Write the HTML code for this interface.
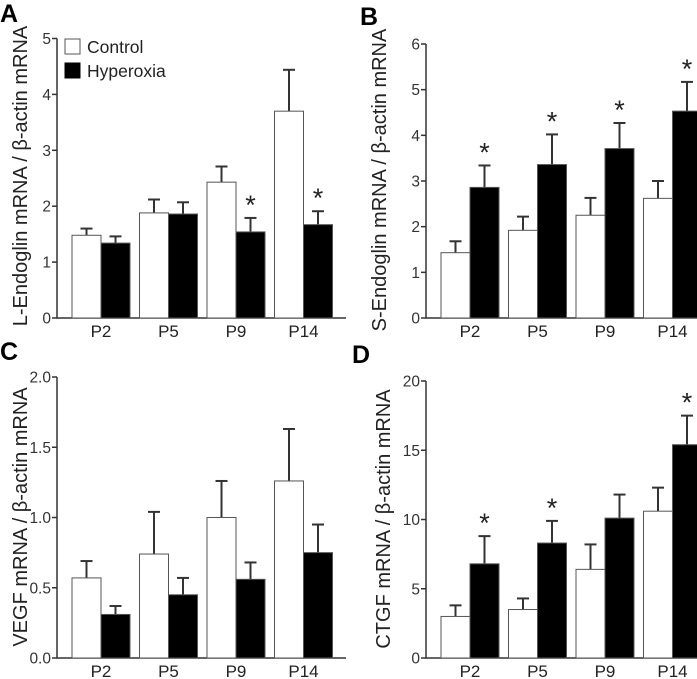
<!DOCTYPE html>
<html><head><meta charset="utf-8"><style>
body{margin:0;background:#fff;}
svg{display:block;font-family:"Liberation Sans",sans-serif;}
</style></head><body>
<svg id="fig" width="697" height="679" viewBox="0 0 697 679"></svg>
<script>
const categories=["P2","P5","P9","P14"];
const aCtrl=[1.48,1.88,2.43,3.70], aCtrlErr=[1.60,2.12,2.71,4.44];
const aHyp=[1.34,1.86,1.54,1.67], aHypErr=[1.46,2.07,1.79,1.91];
const aStars=[false,false,true,true];
const aTicks=["0","1","2","3","4","5"];
const bCtrl=[1.43,1.92,2.25,2.62], bCtrlErr=[1.68,2.22,2.63,3.00];
const bHyp=[2.86,3.36,3.71,4.53], bHypErr=[3.34,4.02,4.27,5.17];
const bStars=[true,true,true,true];
const bTicks=["0","1","2","3","4","5","6"];
const cCtrl=[0.57,0.74,1.00,1.26], cCtrlErr=[0.69,1.04,1.26,1.63];
const cHyp=[0.31,0.45,0.56,0.75], cHypErr=[0.37,0.57,0.68,0.95];
const cStars=[false,false,false,false];
const cTicks=["0.0","0.5","1.0","1.5","2.0"];
const dCtrl=[3.0,3.5,6.4,10.6], dCtrlErr=[3.8,4.3,8.2,12.3];
const dHyp=[6.8,8.3,10.1,15.4], dHypErr=[8.8,9.9,11.8,17.5];
const dStars=[true,true,false,true];
const dTicks=["0","5","10","15","20"];

const svg=document.getElementById('fig');
const NS="http://www.w3.org/2000/svg";
function mk(tag,attrs,parent){const e=document.createElementNS(NS,tag);for(const k in attrs)e.setAttribute(k,attrs[k]);(parent||svg).appendChild(e);return e;}

function panel(o){
  const g=mk('g',{});
  
  
  const max=parseFloat(o.ticks[o.ticks.length-1]);
  const y=v=>o.y0-(v/max)*(o.y0-o.yTop);
  const x=i=>o.x0+15+i*67.5;
  const L=mk('text',{x:o.lx,y:o.ly,'font-size':25,'font-weight':'bold',fill:'#000'},g);L.textContent=o.letter;
  
  
  const ax=mk('path',{d:`M${o.x0} ${o.yTop}V${o.y0}H${o.xEnd}`,stroke:'#333','stroke-width':1.5,fill:'none'},g);
  
  
  o.ticks.forEach(t=>{const v=parseFloat(t);const yy=y(v);
    mk('line',{x1:o.x0-5,x2:o.x0,y1:yy,y2:yy,stroke:'#333','stroke-width':1.5},g);
    const tt=mk('text',{x:o.x0-6,y:yy+5.5,'text-anchor':'end','font-size':15.5,fill:'#333'},g);tt.textContent=t;
    
    
  });
  const yt=mk('text',{x:0,y:0,transform:`translate(${o.tx},${o.tc}) rotate(-90)`,'text-anchor':'middle','font-size':20,fill:'#222'},g);
  yt.textContent=o.title;
  
  
  categories.forEach((c,i)=>{
    const xc=x(i);
    [[o.ctrl,o.ctrlErr,'#fff',0],[o.hyp,o.hypErr,'#000',1]].forEach(([vals,errs,fill,k])=>{
      const bx=xc+k*29, w=29;
      mk('line',{x1:bx+w/2,x2:bx+w/2,y1:y(vals[i]),y2:y(errs[i]),stroke:'#333','stroke-width':2},g);
      mk('line',{x1:bx+w/2-6,x2:bx+w/2+6,y1:y(errs[i]),y2:y(errs[i]),stroke:'#333','stroke-width':2},g);
      const r=mk('rect',{x:bx,y:y(vals[i]),width:w,height:o.y0-y(vals[i]),fill:fill,stroke:'#555','stroke-width':1},g);
      
      
    });
    if(o.stars[i]){const s=mk('text',{x:xc+29+14.5,y:y(o.hypErr[i])-4,'text-anchor':'middle','font-size':27,fill:'#222'},g);s.textContent='*';
      
      }
    const xl=mk('text',{x:xc+29,y:o.y0+19,'text-anchor':'middle','font-size':17,fill:'#222'},g);xl.textContent=c;
    
    
  });
}
panel({letter:'A',lx:0,ly:22,x0:57,xEnd:346,yTop:38.5,y0:318,ticks:aTicks,ctrl:aCtrl,ctrlErr:aCtrlErr,hyp:aHyp,hypErr:aHypErr,stars:aStars,tx:27,tc:176,title:'L-Endoglin mRNA / β-actin mRNA'});
panel({letter:'B',lx:360,ly:25,x0:426,xEnd:697,yTop:44,y0:318,ticks:bTicks,ctrl:bCtrl,ctrlErr:bCtrlErr,hyp:bHyp,hypErr:bHypErr,stars:bStars,tx:386,tc:180,title:'S-Endoglin mRNA / β-actin mRNA'});
panel({letter:'C',lx:0,ly:360,x0:57,xEnd:346,yTop:377,y0:658,ticks:cTicks,ctrl:cCtrl,ctrlErr:cCtrlErr,hyp:cHyp,hypErr:cHypErr,stars:cStars,tx:27,tc:517,title:'VEGF mRNA / β-actin mRNA'});
panel({letter:'D',lx:352,ly:363,x0:426,xEnd:697,yTop:381,y0:658,ticks:dTicks,ctrl:dCtrl,ctrlErr:dCtrlErr,hyp:dHyp,hypErr:dHypErr,stars:dStars,tx:390,tc:519,title:'CTGF mRNA / β-actin mRNA'});
const lg=mk('g',{});


mk('rect',{x:65,y:39,width:15,height:15,fill:'#fff',stroke:'#555'},lg);
mk('rect',{x:65,y:63,width:15,height:15,fill:'#000',stroke:'#000'},lg);
const t1=mk('text',{x:87,y:53,'font-size':17.5,fill:'#222'},lg);t1.textContent='Control';


const t2=mk('text',{x:87,y:77,'font-size':17.5,fill:'#222'},lg);t2.textContent='Hyperoxia';


</script>
</body></html>
